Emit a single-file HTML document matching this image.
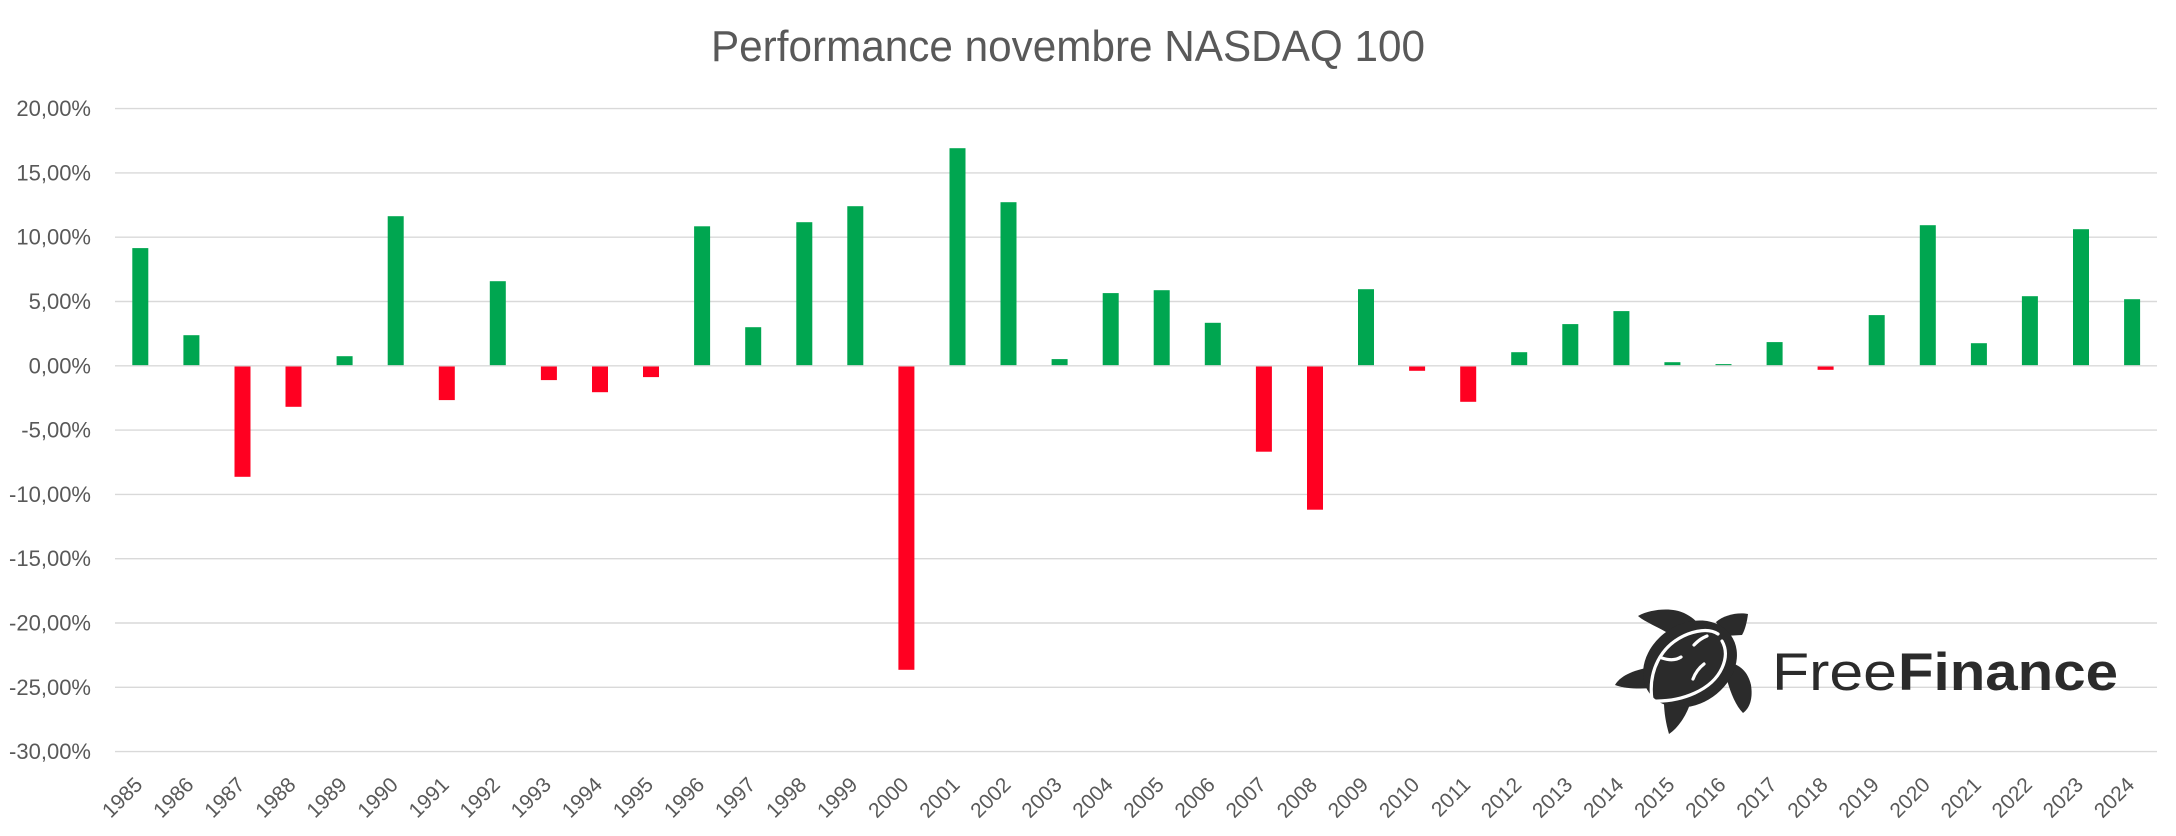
<!DOCTYPE html>
<html>
<head>
<meta charset="utf-8">
<style>
  html,body{margin:0;padding:0;background:#fff;}
  svg{display:block;}
  text{font-family:"Liberation Sans",Arial,sans-serif;}
</style>
</head>
<body>
<svg width="2176" height="836" viewBox="0 0 2176 836" xmlns="http://www.w3.org/2000/svg">
  <rect x="0" y="0" width="2176" height="836" fill="#ffffff"/>
  <!-- Title -->
  <text x="1068" y="61" font-size="44" fill="#595959" text-anchor="middle" textLength="714" lengthAdjust="spacingAndGlyphs">Performance novembre NASDAQ 100</text>

  <!-- Gridlines -->
  <g stroke="#d9d9d9" stroke-width="1.4">
    <line x1="115" y1="108.6" x2="2157" y2="108.6"/>
    <line x1="115" y1="172.9" x2="2157" y2="172.9"/>
    <line x1="115" y1="237.2" x2="2157" y2="237.2"/>
    <line x1="115" y1="301.5" x2="2157" y2="301.5"/>
    <line x1="115" y1="430.1" x2="2157" y2="430.1"/>
    <line x1="115" y1="494.4" x2="2157" y2="494.4"/>
    <line x1="115" y1="558.7" x2="2157" y2="558.7"/>
    <line x1="115" y1="623.0" x2="2157" y2="623.0"/>
    <line x1="115" y1="687.3" x2="2157" y2="687.3"/>
    <line x1="115" y1="751.6" x2="2157" y2="751.6"/>
  </g>

  <!-- Y labels -->
  <g font-size="22" fill="#595959" text-anchor="end">
    <text x="91" y="116.1">20,00%</text>
    <text x="91" y="180.4">15,00%</text>
    <text x="91" y="244.7">10,00%</text>
    <text x="91" y="309.0">5,00%</text>
    <text x="91" y="373.3">0,00%</text>
    <text x="91" y="437.6">-5,00%</text>
    <text x="91" y="501.9">-10,00%</text>
    <text x="91" y="566.2">-15,00%</text>
    <text x="91" y="630.5">-20,00%</text>
    <text x="91" y="694.8">-25,00%</text>
    <text x="91" y="759.1">-30,00%</text>
  </g>

  <!-- Green bars -->
  <g fill="#00a650">
    <rect x="132.3" y="248.1" width="16" height="117.7"/>
    <rect x="183.4" y="335.2" width="16" height="30.6"/>
    <rect x="336.6" y="356.2" width="16" height="9.6"/>
    <rect x="387.7" y="216.2" width="16" height="149.6"/>
    <rect x="489.8" y="281.2" width="16" height="84.6"/>
    <rect x="694.1" y="226.3" width="16" height="139.5"/>
    <rect x="745.2" y="327.2" width="16" height="38.6"/>
    <rect x="796.3" y="222.2" width="16" height="143.6"/>
    <rect x="847.3" y="206.2" width="16" height="159.6"/>
    <rect x="949.5" y="148.2" width="16" height="217.6"/>
    <rect x="1000.5" y="202.2" width="16" height="163.6"/>
    <rect x="1051.6" y="359.1" width="16" height="6.7"/>
    <rect x="1102.7" y="293.1" width="16" height="72.7"/>
    <rect x="1153.7" y="290.2" width="16" height="75.6"/>
    <rect x="1204.8" y="322.8" width="16" height="43.0"/>
    <rect x="1358.0" y="289.2" width="16" height="76.6"/>
    <rect x="1511.2" y="352.2" width="16" height="13.6"/>
    <rect x="1562.3" y="324.1" width="16" height="41.7"/>
    <rect x="1613.4" y="311.1" width="16" height="54.7"/>
    <rect x="1664.4" y="362.2" width="16" height="3.6"/>
    <rect x="1715.5" y="364.1" width="16" height="1.7"/>
    <rect x="1766.6" y="342.1" width="16" height="23.7"/>
    <rect x="1868.7" y="315.1" width="16" height="50.7"/>
    <rect x="1919.8" y="225.2" width="16" height="140.6"/>
    <rect x="1970.9" y="343.2" width="16" height="22.6"/>
    <rect x="2021.9" y="296.2" width="16" height="69.6"/>
    <rect x="2073.0" y="229.2" width="16" height="136.6"/>
    <rect x="2124.1" y="299.2" width="16" height="66.6"/>
  </g>

  <!-- Red bars -->
  <g fill="#ff0021">
    <rect x="234.5" y="365.8" width="16" height="111.0"/>
    <rect x="285.5" y="365.8" width="16" height="41.0"/>
    <rect x="438.8" y="365.8" width="16" height="34.3"/>
    <rect x="540.9" y="365.8" width="16" height="14.3"/>
    <rect x="592.0" y="365.8" width="16" height="26.4"/>
    <rect x="643.0" y="365.8" width="16" height="11.3"/>
    <rect x="898.4" y="365.8" width="16" height="304.0"/>
    <rect x="1255.9" y="365.8" width="16" height="85.9"/>
    <rect x="1307.0" y="365.8" width="16" height="143.9"/>
    <rect x="1409.1" y="365.8" width="16" height="5.0"/>
    <rect x="1460.2" y="365.8" width="16" height="36.0"/>
    <rect x="1817.6" y="365.8" width="16" height="4.0"/>
  </g>

  <!-- Zero line -->
  <line x1="115" y1="365.8" x2="2157" y2="365.8" stroke="#d9d9d9" stroke-width="1.4"/>

  <!-- X labels -->
  <g font-size="21" fill="#595959" text-anchor="end">
    <text transform="translate(143.8,786) rotate(-45)">1985</text>
    <text transform="translate(194.9,786) rotate(-45)">1986</text>
    <text transform="translate(246.0,786) rotate(-45)">1987</text>
    <text transform="translate(297.0,786) rotate(-45)">1988</text>
    <text transform="translate(348.1,786) rotate(-45)">1989</text>
    <text transform="translate(399.2,786) rotate(-45)">1990</text>
    <text transform="translate(450.3,786) rotate(-45)">1991</text>
    <text transform="translate(501.3,786) rotate(-45)">1992</text>
    <text transform="translate(552.4,786) rotate(-45)">1993</text>
    <text transform="translate(603.5,786) rotate(-45)">1994</text>
    <text transform="translate(654.5,786) rotate(-45)">1995</text>
    <text transform="translate(705.6,786) rotate(-45)">1996</text>
    <text transform="translate(756.7,786) rotate(-45)">1997</text>
    <text transform="translate(807.8,786) rotate(-45)">1998</text>
    <text transform="translate(858.8,786) rotate(-45)">1999</text>
    <text transform="translate(909.9,786) rotate(-45)">2000</text>
    <text transform="translate(961.0,786) rotate(-45)">2001</text>
    <text transform="translate(1012.0,786) rotate(-45)">2002</text>
    <text transform="translate(1063.1,786) rotate(-45)">2003</text>
    <text transform="translate(1114.2,786) rotate(-45)">2004</text>
    <text transform="translate(1165.2,786) rotate(-45)">2005</text>
    <text transform="translate(1216.3,786) rotate(-45)">2006</text>
    <text transform="translate(1267.4,786) rotate(-45)">2007</text>
    <text transform="translate(1318.5,786) rotate(-45)">2008</text>
    <text transform="translate(1369.5,786) rotate(-45)">2009</text>
    <text transform="translate(1420.6,786) rotate(-45)">2010</text>
    <text transform="translate(1471.7,786) rotate(-45)">2011</text>
    <text transform="translate(1522.7,786) rotate(-45)">2012</text>
    <text transform="translate(1573.8,786) rotate(-45)">2013</text>
    <text transform="translate(1624.9,786) rotate(-45)">2014</text>
    <text transform="translate(1675.9,786) rotate(-45)">2015</text>
    <text transform="translate(1727.0,786) rotate(-45)">2016</text>
    <text transform="translate(1778.1,786) rotate(-45)">2017</text>
    <text transform="translate(1829.1,786) rotate(-45)">2018</text>
    <text transform="translate(1880.2,786) rotate(-45)">2019</text>
    <text transform="translate(1931.3,786) rotate(-45)">2020</text>
    <text transform="translate(1982.4,786) rotate(-45)">2021</text>
    <text transform="translate(2033.4,786) rotate(-45)">2022</text>
    <text transform="translate(2084.5,786) rotate(-45)">2023</text>
    <text transform="translate(2135.6,786) rotate(-45)">2024</text>
  </g>

  <!-- Logo: turtle -->
  <g fill="#2b2b2b">
    <!-- upper-left flipper -->
    <path d="M1638,616 C1650,609 1672,607 1684,613 C1692,617 1697,621 1698,625 L1666,632 C1656,626 1645,622 1638,616 Z"/>
    <!-- front right flipper -->
    <path d="M1716,622 C1724,615 1738,612 1748,614 C1747,622 1745,630 1742,635 L1724,636 Z"/>
    <!-- left flipper -->
    <path d="M1615,685 C1620,676 1634,669 1658,666 L1655,688 C1640,689 1625,689 1615,685 Z"/>
    <!-- bottom flipper -->
    <path d="M1664,702 L1690,704 C1686,716 1678,728 1669,734 C1666,724 1664,712 1664,702 Z"/>
    <!-- right rear flipper -->
    <path d="M1727,662 C1740,664 1748,672 1751,685 C1753,698 1750,708 1743,713 C1736,706 1731,694 1727,680 Z"/>
    <!-- shell -->
    <ellipse cx="1690" cy="664" rx="50" ry="40" transform="rotate(-35 1690 664)"/>
  </g>
  <g fill="none" stroke="#ffffff" stroke-width="3.2" stroke-linecap="round">
    <path d="M1652,700 C1648,672 1660,645 1688,634 C1702,629 1712,630 1718,634"/>
    <path d="M1653,701 C1682,702 1712,690 1722,668 C1727,657 1726,648 1722,641"/>
    <path d="M1662,658 C1668,660 1675,661 1681,657"/>
    <path d="M1694,645 C1699,640 1702,638 1707,636"/>
    <path d="M1693,679 C1696,671 1700,667 1704,664"/>
  </g>
  <!-- Logo text -->
  <text x="1772" y="690" font-size="53" fill="#2b2b2b" textLength="125" lengthAdjust="spacingAndGlyphs">Free</text>
  <text x="1898" y="690" font-size="53" font-weight="bold" fill="#2b2b2b" textLength="220" lengthAdjust="spacingAndGlyphs">Finance</text>
</svg>
</body>
</html>
